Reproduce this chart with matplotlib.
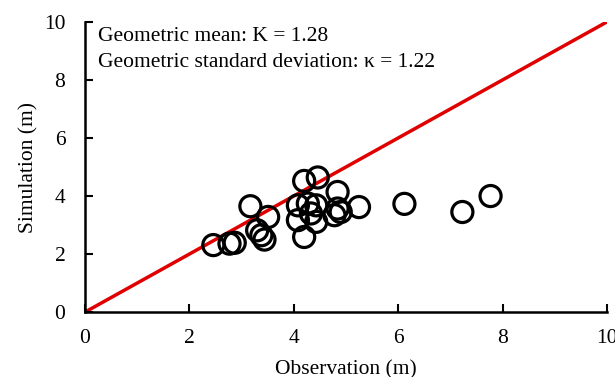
import numpy as np
import matplotlib.pyplot as plt

plt.rcParams['font.family'] = 'Liberation Serif'

# observed vs simulated (m)
obs = [2.46, 2.77, 2.87, 3.17, 3.30, 3.38, 3.44, 3.51, 4.08, 4.27, 4.43, 4.33,
       4.08, 4.43, 4.20, 4.20, 4.46, 4.84, 4.84, 4.78, 4.90, 5.25, 6.12, 7.23, 7.77]
sim = [2.31, 2.36, 2.39, 3.65, 2.82, 2.65, 2.50, 3.28, 3.68, 3.74, 3.68, 3.40,
       3.17, 3.11, 2.59, 4.52, 4.64, 4.14, 3.57, 3.34, 3.45, 3.62, 3.73, 3.45, 4.00]
line = [0, 10]

fig = plt.figure(figsize=(6.15, 3.77), dpi=100)
ax = fig.add_axes([0.138, 0.172, 0.849, 0.770])

ax.plot(line, line, color='#e00000', lw=2.5, zorder=1)
ax.scatter(obs, sim, s=230, facecolors='none', edgecolors='black', linewidths=2.3, zorder=2)

ax.set_xlim(0, 10)
ax.set_ylim(0, 10)
ax.set_xticks([0, 2, 4, 6, 8, 10])
ax.set_yticks([0, 2, 4, 6, 8, 10])
ax.tick_params(direction='in', length=6, width=1.5, labelsize=15.5)
ax.tick_params(axis='x', pad=12)
ax.tick_params(axis='y', pad=14)
for s in ['top', 'right']:
    ax.spines[s].set_visible(False)
for s in ['left', 'bottom']:
    ax.spines[s].set_linewidth(1.8)

ax.set_xlabel('Observation (m)', fontsize=15.5, labelpad=9)
ax.set_ylabel('Simulation (m)', fontsize=15.5, labelpad=4)

ax.text(0.25, 9.5, 'Geometric mean: K = 1.28', fontsize=15.5, va='center')
ax.text(0.25, 8.6, 'Geometric standard deviation: \u03ba = 1.22', fontsize=15.5, va='center')

fig.savefig('out.png', dpi=100)
